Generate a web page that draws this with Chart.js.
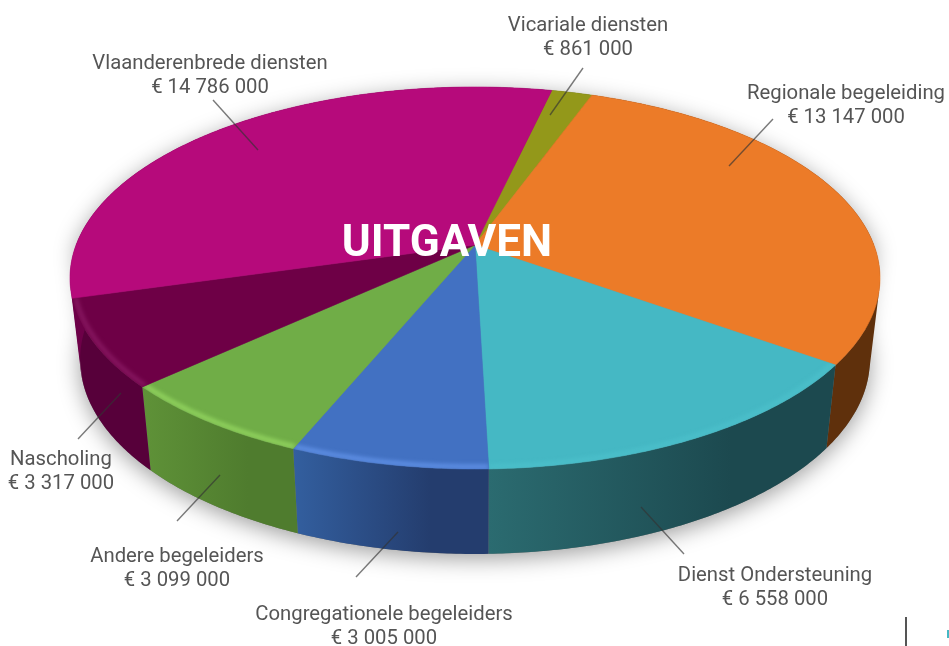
<!DOCTYPE html>
<html>
<head>
<meta charset="utf-8">
<title>Uitgaven</title>
<script src="https://cdn.jsdelivr.net/npm/chart.js@4"></script>
<style>
  html, body { margin: 0; padding: 0; background: #fff; overflow: hidden; }
  canvas { display: block; }
</style>
</head>
<body>
<canvas id="pieChart" width="949" height="646"></canvas>
<script>
// Data, clockwise from the top
const categories = ['Vicariale diensten', 'Regionale begeleiding', 'Dienst Ondersteuning', 'Congregationele begeleiders', 'Andere begeleiders', 'Nascholing', 'Vlaanderenbrede diensten'];
const amounts = [861000, 13147000, 6558000, 3005000, 3099000, 3317000, 14786000];

// Colours per slice: top face, wall left, wall right, rim highlight
const topColors = ['#93981a', '#ec7b28', '#45b8c4', '#4271c2', '#70ad47', '#6e0046', '#b60a7b'];
const wallLeft = ['#5c5e10', '#5f300c', '#2b6b70', '#335f9f', '#5f9238', '#57003a', '#6d0048'];
const wallRight = ['#5c5e10', '#5f300c', '#1c494f', '#243d6e', '#4f7c2e', '#57003a', '#6d0048'];
const rimColors = [null, null, '#4cc0cb', '#6394ea', '#96d962', '#8a1a64', null];

// Label places: centre x, first baseline y, leader line from / to
const labelX = [588, 846, 775, 384, 177, 61, 210];
const labelY = [31, 99, 581, 620, 562, 465, 69];
const leaders = [
  [583, 68, 550, 115], [773, 119, 729, 166], [684, 554, 641, 507], [356, 577, 398, 532],
  [177, 521, 220, 475], [78, 439, 121, 393], [213, 100, 258, 150]
];

// Perspective of the disc
const cx = 475, cy = 278, rx = 405, ry = 191;
const k = -33 / ry;
const cc = rx * Math.sqrt(1 - k * k);

// unit circle -> top face
function topPoint(u, v) {
  const w = 1 + k * v;
  return [cx + cc * u / w, cy + (ry * v + ry * k) / w];
}
// top face -> same point on the bottom of the wall
function bottomPoint(p) {
  return [cx + (p[0] - cx) * 0.975, cy + (p[1] - cy) * 1.018 + 81.5];
}
function rimPoints(a0, a1, r) {
  const pts = [];
  const n = Math.max(2, Math.ceil((a1 - a0) / 0.01));
  for (let i = 0; i <= n; i++) {
    const a = a0 + (a1 - a0) * i / n;
    pts.push(topPoint(r * Math.cos(a), r * Math.sin(a)));
  }
  return pts;
}
function tracePoly(ctx, pts) {
  ctx.beginPath();
  pts.forEach((p, i) => i ? ctx.lineTo(p[0], p[1]) : ctx.moveTo(p[0], p[1]));
}
// adds a quad to the current path, always wound the same way so overlaps don't cancel
function addQuad(ctx, q) {
  let area = 0;
  q.forEach((p, i) => {
    const n = q[(i + 1) % 4];
    area += p[0] * n[1] - n[0] * p[1];
  });
  const pts = area < 0 ? q.slice().reverse() : q;
  pts.forEach((p, i) => i ? ctx.lineTo(p[0], p[1]) : ctx.moveTo(p[0], p[1]));
  ctx.closePath();
}

const pie3d = {
  id: 'pie3d',
  beforeDatasetDraw(chart) {
    const ctx = chart.ctx;
    const arcs = chart.getDatasetMeta(0).data;

    // soft shadow under the disc, outline = back of top rim + front of bottom rim
    const back = rimPoints(Math.PI, Math.PI * 2, 1);
    const front = rimPoints(0, Math.PI, 1).map(bottomPoint);
    ctx.save();
    ctx.shadowColor = 'rgba(0,0,0,0.38)';
    ctx.shadowBlur = 22;
    ctx.shadowOffsetY = 5;
    ctx.fillStyle = '#777';
    tracePoly(ctx, back.concat(front));
    ctx.closePath();
    ctx.fill();
    ctx.restore();

    // walls, all rim steps as quads in one path so no seams show
    arcs.forEach((arc, i) => {
      const rim = rimPoints(arc.startAngle, arc.endAngle, 1);
      const low = rim.map(bottomPoint);
      const xs = rim.map(p => p[0]);
      const g = ctx.createLinearGradient(Math.min(...xs), 0, Math.max(...xs), 0);
      g.addColorStop(0, wallLeft[i]);
      g.addColorStop(0.7, wallRight[i]);
      g.addColorStop(1, wallRight[i]);
      ctx.fillStyle = g;
      ctx.beginPath();
      for (let j = 0; j < rim.length - 1; j++) {
        addQuad(ctx, [rim[j], rim[j + 1], low[j + 1], low[j]]);
      }
      ctx.fill();
    });

    // top faces, angles come from the library's arc elements
    const apex = topPoint(0, 0);
    arcs.forEach((arc, i) => {
      const rim = rimPoints(arc.startAngle, arc.endAngle, 1);
      ctx.fillStyle = arc.options.backgroundColor;
      ctx.strokeStyle = arc.options.backgroundColor;
      ctx.lineWidth = 0.6;
      tracePoly(ctx, [apex].concat(rim));
      ctx.closePath();
      ctx.fill();
      ctx.stroke();

      if (rimColors[i]) {
        ctx.save();
        ctx.clip();
        ctx.filter = 'blur(2px)';
        ctx.strokeStyle = rimColors[i];
        ctx.lineWidth = 4;
        tracePoly(ctx, rimPoints(arc.startAngle, arc.endAngle, 0.992));
        ctx.stroke();
        ctx.restore();
      }
    });
    return false;
  },
  afterDraw(chart) {
    const ctx = chart.ctx;

    // leader lines
    ctx.strokeStyle = 'rgba(50,50,50,0.65)';
    ctx.lineWidth = 1.4;
    leaders.forEach(l => {
      ctx.beginPath();
      ctx.moveTo(l[0], l[1]);
      ctx.lineTo(l[2], l[3]);
      ctx.stroke();
    });

    // labels
    ctx.fillStyle = '#555';
    ctx.font = '20.3px Roboto';
    ctx.textAlign = 'center';
    ctx.textBaseline = 'alphabetic';
    categories.forEach((name, i) => {
      ctx.fillText(name, labelX[i], labelY[i]);
      ctx.fillText('€ ' + String(amounts[i]).replace(/\B(?=(\d{3})+$)/g, ' '), labelX[i], labelY[i] + 24);
    });

    // title in the middle of the pie
    ctx.fillStyle = '#fff';
    ctx.font = 'bold 44px Roboto';
    ctx.fillText('UITGAVEN', 447, 256);

    // cut off bits at the lower right of the page
    ctx.fillStyle = '#555';
    ctx.fillRect(905, 617, 2, 29);
    ctx.fillStyle = '#45b8c4';
    ctx.fillRect(947, 630, 2, 8);
  }
};

new Chart(document.getElementById('pieChart').getContext('2d'), {
  type: 'pie',
  data: {
    labels: categories,
    datasets: [{ data: amounts, backgroundColor: topColors, borderWidth: 0 }]
  },
  options: {
    responsive: false,
    animation: false,
    rotation: 13,
    plugins: { legend: { display: false }, tooltip: { enabled: false } }
  },
  plugins: [pie3d]
});
</script>
</body>
</html>
